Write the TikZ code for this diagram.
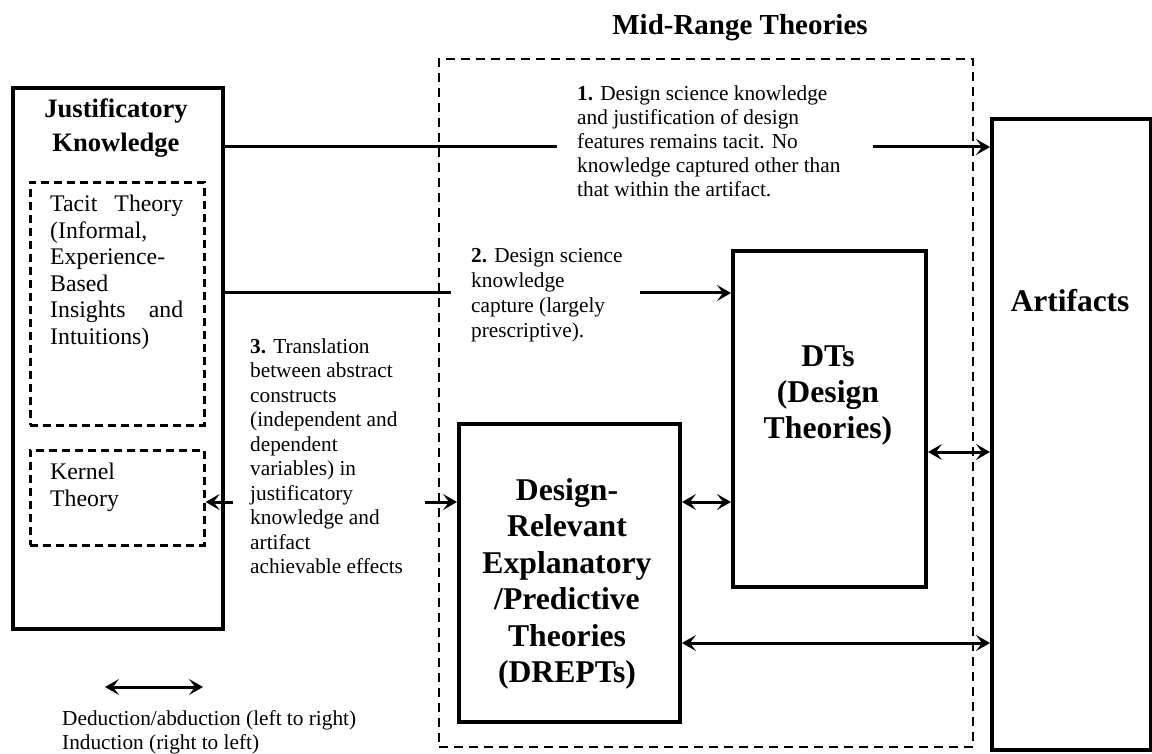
\documentclass[tikz,border=0pt]{standalone}
\usepackage{fontspec}
\setmainfont{Liberation Serif}
\usetikzlibrary{arrows.meta}
\begin{document}
\begin{tikzpicture}[x=1pt,y=-1pt,
  box/.style={draw, line width=4pt, rectangle, inner sep=0pt, anchor=north west},
  dbox/.style={draw, line width=2.6pt, dash pattern=on 8pt off 5pt, rectangle, inner sep=0pt, anchor=north west},
  mbox/.style={draw, line width=2pt, dash pattern=on 9pt off 6pt, rectangle, inner sep=0pt, anchor=north west},
  txt/.style={inner sep=0pt, anchor=base west},
  ctxt/.style={inner sep=0pt, anchor=base},
  conn/.style={line width=3pt},
  tip/.style={line width=3pt, -{Stealth[length=14pt,width=16pt,inset=6pt]}},
  both/.style={line width=3pt, {Stealth[length=14pt,width=16pt,inset=6pt]}-{Stealth[length=14pt,width=16pt,inset=6pt]}}
]
\useasboundingbox (0,0) rectangle (1152,754);

% boxes
\node[mbox, minimum width=534pt, minimum height=688pt] (mid) at (438,58) {};
\node[box, minimum width=210pt, minimum height=541pt] (jk) at (11,86) {};
\node[dbox, minimum width=174pt, minimum height=243pt] (tacit) at (29,181) {};
\node[dbox, minimum width=174pt, minimum height=95pt] (kern) at (29,449) {};
\node[box, minimum width=221pt, minimum height=298pt] (drept) at (457,422) {};
\node[box, minimum width=193pt, minimum height=336pt] (dts) at (731,249) {};
\node[box, minimum width=159pt, minimum height=631pt] (art) at (990,117) {};

% texts
\node[ctxt, font=\bfseries\fontsize{29}{34}\selectfont] (title) at (740,35) {Mid-Range Theories};
\node[ctxt, font=\bfseries\fontsize{26.6}{34}\selectfont] (jkt) at (116,118) {\parbox[t]{200pt}{\centering Justificatory\\Knowledge}};
\node[txt, font=\fontsize{23.8}{26.5}\selectfont] (tt) at (50,212) {\parbox[t]{140pt}{\makebox[133pt][s]{Tacit Theory}\\(Informal,\\Experience-\\Based\\\makebox[133pt][s]{Insights and}\\Intuitions)}};
\node[txt, font=\fontsize{23.8}{27.5}\selectfont] (kt) at (50,479) {\parbox[t]{140pt}{Kernel\\Theory}};
\node[txt, font=\fontsize{21.3}{23.8}\selectfont] (t1) at (577,101) {\parbox[t]{300pt}{\textbf{1.} Design science knowledge\\and justification of design\\features remains tacit. No\\knowledge captured other than\\that within the artifact.}};
\node[txt, font=\fontsize{21.3}{24.7}\selectfont] (t2) at (471,263) {\parbox[t]{200pt}{\textbf{2.} Design science\\knowledge\\capture (largely\\prescriptive).}};
\node[txt, font=\fontsize{21.3}{24.5}\selectfont] (t3) at (250,353) {\parbox[t]{200pt}{\textbf{3.} Translation\\between abstract\\constructs\\(independent and\\dependent\\variables) in\\justificatory\\knowledge and\\artifact\\achievable effects}};
\node[ctxt, font=\bfseries\fontsize{31.7}{36.5}\selectfont] (dtt) at (828,366) {\parbox[t]{190pt}{\centering DTs\\(Design\\Theories)}};
\node[ctxt, font=\bfseries\fontsize{31.7}{36.5}\selectfont] (drt) at (567,500) {\parbox[t]{215pt}{\centering Design-\\Relevant\\Explanatory\\/Predictive\\Theories\\(DREPTs)}};
\node[ctxt, font=\bfseries\fontsize{31.5}{36}\selectfont] (artt) at (1070,312) {Artifacts};
\node[txt, font=\fontsize{21.3}{24}\selectfont] (leg) at (62,725) {\parbox[t]{400pt}{Deduction/abduction (left to right)\\Induction (right to left)}};

% connector levels and free ends
\coordinate (y1) at (0,147);
\coordinate (y2) at (0,293);
\coordinate (y3) at (0,502);
\coordinate (y4) at (0,452);
\coordinate (y5) at (0,643);
\coordinate (a1) at (557,147);
\coordinate (b1) at (873,147);
\coordinate (a2) at (451,293);
\coordinate (b2) at (640,293);
\coordinate (c3) at (233,502);
\coordinate (d3) at (425,502);
\coordinate (l1) at (105,687);
\coordinate (l2) at (203,687);

% connectors
\draw[conn] (jk.east |- y1) -- (a1);
\draw[tip] (b1) -- (art.west |- y1);
\draw[conn] (jk.east |- y2) -- (a2);
\draw[tip] (b2) -- (dts.west |- y2);
\draw[tip] (c3) -- (kern.east |- y3);
\draw[tip] (d3) -- (drept.west |- y3);
\draw[both] (drept.east |- y3) -- (dts.west |- y3);
\draw[both] (dts.east |- y4) -- (art.west |- y4);
\draw[both] (drept.east |- y5) -- (art.west |- y5);
\draw[both] (l1) -- (l2);
\end{tikzpicture}
\end{document}
